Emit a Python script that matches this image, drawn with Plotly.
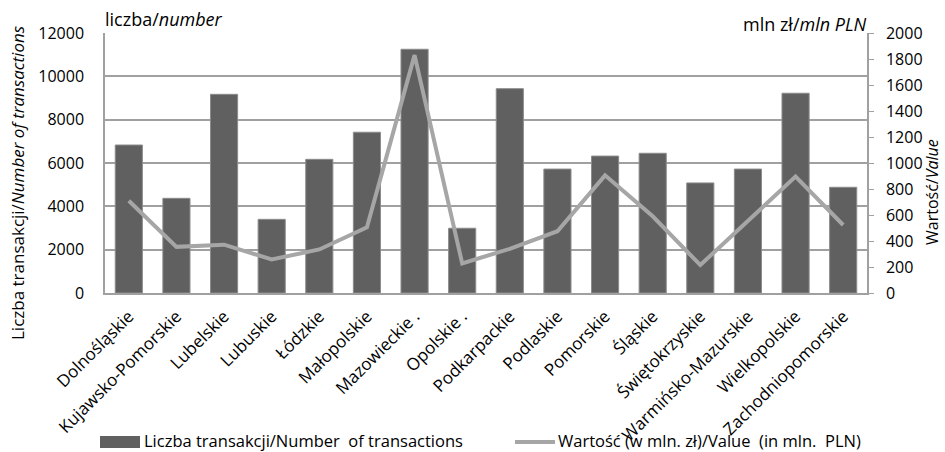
import plotly.graph_objects as go

# Voivodeships
regions = [
    "Dolnośląskie", "Kujawsko-Pomorskie", "Lubelskie", "Lubuskie", "Łódzkie",
    "Małopolskie", "Mazowieckie .", "Opolskie .", "Podkarpackie", "Podlaskie",
    "Pomorskie", "Śląskie", "Świętokrzyskie", "Warmińsko-Mazurskie",
    "Wielkopolskie", "Zachodniopomorskie",
]

# Number of transactions (left axis)
transactions = [6830, 4370, 9170, 3400, 6170, 7420, 11250, 2990,
                9430, 5720, 6320, 6450, 5080, 5720, 9220, 4880]

# Value in mln PLN (right axis)
value_mln = [710, 355, 372, 258, 335, 505, 1830, 228,
             340, 475, 905, 590, 215, 560, 895, 523]

# Axis tick values
left_ticks = [0, 2000, 4000, 6000, 8000, 10000, 12000]
right_ticks = list(range(0, 2001, 200))

FONT = "Open Sans"
GRID = "#A0A0A0"
BAR = "#606060"
LINE = "#A6A6A6"

# plot area in pixels
L, R, T, B = 105, 867, 33, 293
PW, PH = R - L, B - T


def px(x):
    return (x - L) / PW


def py(y):
    return (B - y) / PH


fig = go.Figure()

fig.add_trace(go.Bar(
    x=regions, y=transactions, yaxis="y",
    marker=dict(color=BAR, line=dict(color="#8C8C8C", width=1)),
    width=0.57, name="Liczba transakcji/Number  of transactions",
    showlegend=False,
))

fig.add_trace(go.Scatter(
    x=regions, y=value_mln, yaxis="y2", mode="lines",
    line=dict(color=LINE, width=4),
    name="Wartość (w mln. zł)/Value (in mln. PLN)",
    showlegend=False,
))

fig.update_layout(
    width=945, height=452,
    margin=dict(l=L, r=945 - R, t=T, b=452 - B),
    paper_bgcolor="white", plot_bgcolor="white",
    font=dict(family=FONT, size=16, color="#000000"),
    xaxis=dict(
        tickangle=-45, tickfont=dict(size=17),
        showline=True, linecolor=GRID, linewidth=1.5,
        showgrid=False, ticks="", ticklen=0, ticklabelstandoff=5,
        automargin=False,
    ),
    yaxis=dict(
        range=[0, 12000], tickvals=left_ticks,
        ticktext=[str(v) for v in left_ticks],
        showgrid=True, gridcolor=GRID,
        gridwidth=1.5, zeroline=False, showline=True, linecolor=GRID,
        linewidth=1.5, ticks="outside", ticklen=16,
        tickcolor="rgba(0,0,0,0)", tickfont=dict(size=16),
        automargin=False,
    ),
    yaxis2=dict(
        range=[0, 2000], tickvals=right_ticks,
        ticktext=[str(v) for v in right_ticks],
        overlaying="y", side="right",
        showgrid=False, zeroline=False, showline=True, linecolor=GRID,
        linewidth=1.5, ticks="outside", ticklen=5, tickcolor=GRID,
        tickfont=dict(size=16), ticklabelstandoff=9,
        automargin=False,
    ),
)

# Axis titles
fig.add_annotation(text="Liczba transakcji/<i>Number of transactions</i>",
                   xref="paper", yref="paper", x=px(17), y=py(183),
                   xanchor="center", yanchor="middle",
                   textangle=-90, showarrow=False, font=dict(size=17))
fig.add_annotation(text="Wartość/<i>Value</i>",
                   xref="paper", yref="paper", x=px(932), y=py(192),
                   xanchor="center", yanchor="middle", borderpad=0,
                   textangle=-90, showarrow=False, font=dict(size=16))

# Unit captions above the axes
fig.add_annotation(text="liczba/<i>number</i>", xref="paper", yref="paper",
                   x=px(L - 2), y=py(19), xanchor="left", yanchor="middle",
                   showarrow=False, font=dict(size=18))
fig.add_annotation(text="mln zł/<i>mln PLN</i>", xref="paper", yref="paper",
                   x=px(R + 2), y=py(24), xanchor="right", yanchor="middle",
                   showarrow=False, font=dict(size=18))

# Legend drawn below the chart
fig.add_shape(type="rect", xref="paper", yref="paper",
              x0=px(100), x1=px(140), y0=py(448), y1=py(436),
              fillcolor=BAR, line=dict(width=0))
fig.add_annotation(text="Liczba transakcji/Number  of transactions",
                   xref="paper", yref="paper", x=px(142), y=py(440),
                   xanchor="left", yanchor="middle", showarrow=False,
                   font=dict(size=16.5))
fig.add_shape(type="line", xref="paper", yref="paper",
              x0=px(515), x1=px(555), y0=py(442), y1=py(442),
              line=dict(color=LINE, width=4))
fig.add_annotation(text="Wartość (w mln. zł)/Value  (in mln.  PLN)",
                   xref="paper", yref="paper", x=px(556), y=py(440),
                   xanchor="left", yanchor="middle", showarrow=False,
                   font=dict(size=16.5))

fig.write_html("out.html")
